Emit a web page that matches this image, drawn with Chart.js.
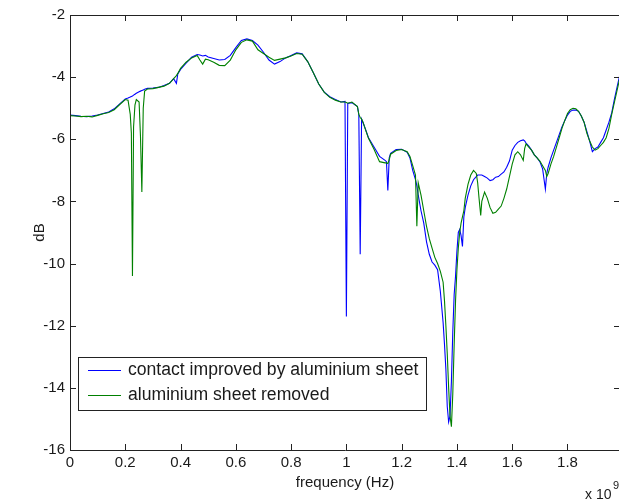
<!DOCTYPE html>
<html>
<head>
<meta charset="utf-8">
<script src="https://cdn.jsdelivr.net/npm/chart.js@4/dist/chart.umd.min.js"></script>
<style>
  html, body { margin: 0; padding: 0; background: #ffffff; }
  #wrap { width: 619px; height: 501px; overflow: hidden; position: relative; background: #fff; }
  canvas { display: block; }
</style>
</head>
<body>
<div id="wrap"><canvas id="c" width="622" height="501"></canvas></div>
<script>
// Frequency in units of 10^9 Hz
const freqGHz = [
  0.00,0.02,0.04,0.06,0.08,0.10,0.12,0.14,0.16,0.18,0.20,0.21,0.218,0.222,0.226,0.23,0.235,0.24,0.25,0.255,
  0.26,0.265,0.27,0.28,0.30,0.32,0.34,0.36,0.375,0.385,0.39,0.40,0.42,0.44,0.46,0.47,0.48,0.49,0.50,0.52,
  0.54,0.56,0.58,0.60,0.62,0.64,0.66,0.68,0.70,0.72,0.74,0.76,0.78,0.80,0.82,0.84,0.86,0.88,0.90,0.92,
  0.94,0.96,0.98,0.995,1.00,1.005,1.02,1.04,1.045,1.05,1.055,1.06,1.08,1.10,1.12,1.14,1.145,1.15,1.155,1.16,
  1.18,1.20,1.22,1.23,1.24,1.25,1.255,1.26,1.27,1.28,1.29,1.30,1.31,1.32,1.33,1.34,1.35,1.355,1.36,1.365,
  1.37,1.375,1.38,1.385,1.39,1.395,1.40,1.405,1.41,1.415,1.42,1.425,1.43,1.44,1.45,1.46,1.47,1.475,1.48,1.486,
  1.49,1.50,1.51,1.52,1.53,1.54,1.55,1.56,1.57,1.58,1.59,1.60,1.61,1.62,1.63,1.64,1.645,1.65,1.66,1.67,
  1.68,1.69,1.70,1.71,1.72,1.725,1.73,1.74,1.75,1.76,1.77,1.78,1.79,1.80,1.81,1.82,1.83,1.84,1.85,1.86,
  1.87,1.88,1.89,1.90,1.91,1.92,1.93,1.94,1.95,1.96,1.97,1.98,1.99,2.00
];

// "contact improved by aluminium sheet" (dB)
const contactImproved = [
  -5.22,-5.24,-5.26,-5.27,-5.25,-5.22,-5.17,-5.12,-5.02,-4.86,-4.70,-4.67,-4.64,-4.62,-4.61,-4.58,-4.55,-4.52,-4.47,-4.45,
  -4.43,-4.41,-4.39,-4.36,-4.35,-4.33,-4.27,-4.20,-4.05,-4.20,-3.90,-3.75,-3.55,-3.36,-3.27,-3.29,-3.32,-3.30,-3.35,-3.40,
  -3.45,-3.43,-3.30,-3.05,-2.82,-2.77,-2.82,-2.97,-3.20,-3.45,-3.58,-3.50,-3.38,-3.30,-3.22,-3.25,-3.50,-3.85,-4.22,-4.48,
  -4.63,-4.72,-4.80,-4.78,-11.7,-4.85,-4.82,-4.95,-5.20,-9.70,-5.35,-5.45,-5.95,-6.25,-6.55,-6.68,-6.72,-7.65,-6.60,-6.45,
  -6.33,-6.32,-6.42,-6.60,-7.00,-7.30,-7.50,-7.80,-8.30,-8.70,-9.30,-9.70,-9.95,-10.05,-10.2,-10.9,-11.9,-12.6,-13.4,-14.6,
  -15.1,-14.9,-13.8,-12.2,-11.0,-10.4,-9.60,-9.00,-8.90,-9.10,-9.45,-8.50,-8.20,-7.80,-7.50,-7.30,-7.20,-7.15,-7.15,-7.15,
  -7.15,-7.20,-7.25,-7.33,-7.30,-7.22,-7.20,-7.12,-7.05,-6.90,-6.70,-6.35,-6.20,-6.10,-6.05,-6.02,-6.05,-6.12,-6.22,-6.35,
  -6.50,-6.60,-6.72,-6.95,-7.60,-7.10,-6.90,-6.60,-6.35,-6.10,-5.85,-5.60,-5.40,-5.22,-5.10,-5.06,-5.06,-5.10,-5.25,-5.45,
  -5.75,-6.05,-6.40,-6.30,-6.25,-6.10,-5.95,-5.70,-5.45,-5.15,-4.70,-4.30,-3.90,-3.70
];

// "aluminium sheet removed" (dB)
const sheetRemoved = [
  -5.24,-5.25,-5.27,-5.26,-5.28,-5.23,-5.18,-5.14,-5.05,-4.88,-4.72,-4.74,-5.20,-5.80,-10.4,-5.60,-4.90,-4.72,-4.80,-5.90,
  -7.70,-5.00,-4.45,-4.38,-4.37,-4.33,-4.29,-4.20,-4.05,-3.95,-3.88,-3.72,-3.52,-3.38,-3.30,-3.45,-3.58,-3.42,-3.44,-3.52,
  -3.62,-3.63,-3.45,-3.12,-2.88,-2.80,-2.84,-3.12,-3.24,-3.36,-3.46,-3.42,-3.38,-3.32,-3.24,-3.26,-3.50,-3.85,-4.22,-4.49,
  -4.65,-4.74,-4.80,-4.80,-4.82,-4.84,-4.80,-4.95,-5.20,-5.30,-5.35,-5.45,-5.97,-6.32,-6.72,-6.76,-6.76,-6.78,-6.66,-6.48,
  -6.36,-6.33,-6.40,-6.55,-6.85,-7.15,-8.80,-7.40,-7.80,-8.30,-8.80,-9.20,-9.50,-9.80,-10.0,-10.25,-10.6,-11.2,-12.0,-12.9,
  -14.0,-14.9,-15.25,-14.2,-12.6,-11.2,-10.2,-9.50,-9.00,-8.70,-8.50,-8.30,-7.90,-7.45,-7.15,-7.00,-7.10,-7.40,-7.90,-8.45,
  -8.00,-7.70,-7.90,-8.20,-8.38,-8.35,-8.25,-8.15,-7.90,-7.60,-7.20,-6.80,-6.50,-6.40,-6.50,-6.68,-6.30,-6.15,-6.25,-6.35,
  -6.50,-6.60,-6.70,-6.85,-7.00,-7.20,-7.10,-6.80,-6.55,-6.25,-5.95,-5.65,-5.40,-5.17,-5.05,-5.00,-5.02,-5.10,-5.25,-5.45,
  -5.80,-6.05,-6.25,-6.35,-6.30,-6.20,-6.10,-5.95,-5.65,-5.20,-4.80,-4.40,-4.00,-3.80
];

const seriesLabels = ['contact improved by aluminium sheet', 'aluminium sheet removed'];
const xTitle = 'frequency (Hz)';
const yTitle = 'dB';
const xExponent = '9';

const FONT = '"Liberation Sans", Arial, sans-serif';
const TXT = '#1a1a1a';

const framePlugin = {
  id: 'framePlugin',
  afterDatasetsDraw(chart) {
    const ctx = chart.ctx;
    const a = chart.chartArea;
    const xs = chart.scales.x, ys = chart.scales.y;
    ctx.save();
    ctx.strokeStyle = '#222';
    ctx.lineWidth = 1;
    // box
    ctx.beginPath();
    ctx.rect(Math.round(a.left) + 0.5, Math.round(a.top) + 0.5, Math.round(a.right - a.left), Math.round(a.bottom - a.top));
    ctx.stroke();
    const tl = 6;
    ctx.beginPath();
    xs.ticks.forEach(t => {
      const px = Math.round(xs.getPixelForValue(t.value)) + 0.5;
      ctx.moveTo(px, a.bottom); ctx.lineTo(px, a.bottom - tl);
      ctx.moveTo(px, a.top); ctx.lineTo(px, a.top + tl);
    });
    ys.ticks.forEach(t => {
      const py = Math.round(ys.getPixelForValue(t.value)) + 0.5;
      ctx.moveTo(a.left, py); ctx.lineTo(a.left + tl, py);
      ctx.moveTo(a.right, py); ctx.lineTo(a.right - tl, py);
    });
    ctx.stroke();

    // legend box
    const lx = 78, ly = 357, lw = 348, lh = 53;
    ctx.fillStyle = '#ffffff';
    ctx.fillRect(lx, ly, lw, lh);
    ctx.strokeStyle = '#222';
    ctx.strokeRect(lx + 0.5, ly + 0.5, lw, lh);
    const rows = [370, 395];
    chart.data.datasets.forEach((ds, i) => {
      ctx.strokeStyle = ds.borderColor;
      ctx.lineWidth = 1;
      ctx.beginPath();
      ctx.moveTo(88, rows[i] + 0.5); ctx.lineTo(121, rows[i] + 0.5);
      ctx.stroke();
      ctx.fillStyle = TXT;
      ctx.font = '17.6px ' + FONT;
      ctx.textBaseline = 'middle';
      ctx.textAlign = 'left';
      ctx.fillText(ds.label, 128, rows[i]);
    });

    // exponent label
    ctx.fillStyle = TXT;
    ctx.textBaseline = 'alphabetic';
    ctx.font = '14px ' + FONT;
    ctx.fillText('x 10', 585, 499);
    ctx.font = '11px ' + FONT;
    ctx.fillText(xExponent, 613, 489);
    ctx.restore();
  }
};

new Chart(document.getElementById('c'), {
  type: 'line',
  data: {
    labels: freqGHz,
    datasets: [
      { label: seriesLabels[0], data: freqGHz.map((f, i) => ({x: f, y: contactImproved[i]})),
        borderColor: '#0000ff', borderWidth: 1.1, pointRadius: 0, tension: 0, fill: false, order: 1 },
      { label: seriesLabels[1], data: freqGHz.map((f, i) => ({x: f, y: sheetRemoved[i]})),
        borderColor: '#008000', borderWidth: 1.1, pointRadius: 0, tension: 0, fill: false, order: 0 }
    ]
  },
  options: {
    responsive: false,
    animation: false,
    devicePixelRatio: 1,
    layout: { padding: { top: 15, right: 2, left: 0, bottom: 0 } },
    plugins: { legend: { display: false }, tooltip: { enabled: false } },
    scales: {
      x: {
        type: 'linear', min: 0, max: 1.99,
        grid: { display: false, drawTicks: false },
        border: { display: false },
        ticks: { stepSize: 0.2, includeBounds: false, padding: 4, color: TXT,
                 font: { family: FONT, size: 15 }, maxRotation: 0, autoSkip: false,
                 callback: v => String(parseFloat(v.toFixed(1))) },
        title: { display: true, text: xTitle, color: TXT, font: { family: FONT, size: 15 },
                 padding: { top: 0, bottom: 9 } },
        afterFit: s => { s.height = 51; }
      },
      y: {
        type: 'linear', min: -16, max: -2,
        grid: { display: false, drawTicks: false },
        border: { display: false },
        ticks: { stepSize: 2, padding: 5, color: TXT, font: { family: FONT, size: 15 } },
        title: { display: true, text: yTitle, color: TXT, font: { family: FONT, size: 15 },
                 padding: { top: 31, bottom: 0 } },
        afterFit: s => { s.width = 70; }
      }
    }
  },
  plugins: [framePlugin]
});
</script>
</body>
</html>
